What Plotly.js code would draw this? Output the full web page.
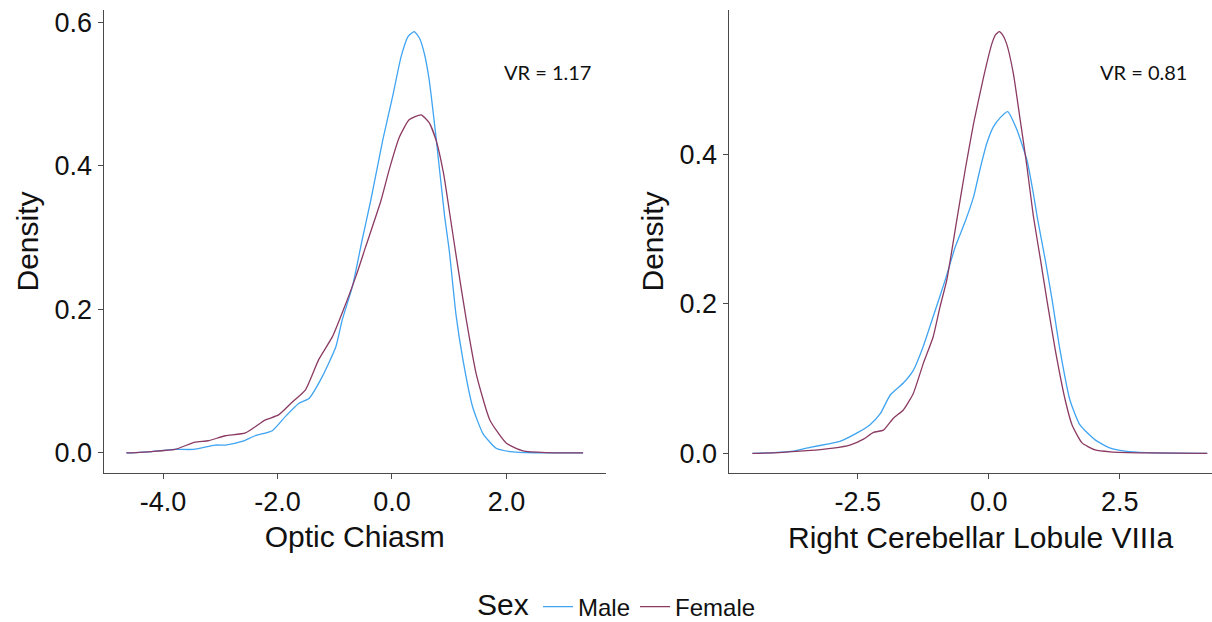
<!DOCTYPE html>
<html>
<head>
<meta charset="utf-8">
<script src="https://cdn.plot.ly/plotly-3.0.1.min.js"></script>
<style>html,body{margin:0;padding:0;background:#fff;}#chart{width:1212px;height:622px;}</style>
</head>
<body>
<div id="chart"></div>
<script>
// Optic Chiasm (left panel)
const ocMaleX = [-4.64,-4.2,-3.79,-3.47,-3.09,-2.91,-2.62,-2.39,-2.09,-1.86,-1.63,-1.45,-1.22,-0.98,-0.87,-0.69,-0.52,-0.37,-0.16,0.01,0.16,0.28,0.39,0.48,0.57,0.65,0.77,0.92,1.0,1.12,1.24,1.41,1.59,1.82,2.06,2.5,3.34];
const ocMaleY = [0,0.002,0.005,0.005,0.011,0.011,0.016,0.024,0.031,0.051,0.069,0.076,0.106,0.148,0.185,0.232,0.297,0.352,0.436,0.496,0.552,0.58,0.587,0.578,0.555,0.52,0.44,0.33,0.283,0.192,0.13,0.064,0.027,0.0065,0.002,0.0003,0];
const ocFemaleX = [-4.64,-4.2,-3.79,-3.44,-3.21,-2.91,-2.56,-2.21,-1.98,-1.74,-1.51,-1.28,-1.04,-0.87,-0.63,-0.46,-0.19,-0.05,0.13,0.3,0.51,0.65,0.77,0.9,1.02,1.14,1.3,1.47,1.71,2.0,2.29,2.69,3.34];
const ocFemaleY = [0,0.002,0.005,0.015,0.017,0.024,0.028,0.046,0.053,0.071,0.088,0.13,0.162,0.195,0.246,0.287,0.352,0.394,0.44,0.464,0.471,0.46,0.436,0.39,0.328,0.265,0.185,0.111,0.046,0.0135,0.003,0.0005,0];

// Right Cerebellar Lobule VIIIa (right panel)
const rclMaleX = [-4.51,-4.1,-3.73,-3.41,-3.03,-2.84,-2.52,-2.27,-2.07,-1.88,-1.63,-1.44,-1.25,-1.06,-0.83,-0.64,-0.45,-0.29,-0.17,-0.04,0.09,0.22,0.36,0.53,0.73,0.85,0.93,1.08,1.21,1.36,1.55,1.74,2.03,2.32,2.6,3.0,4.17];
const rclMaleY = [0,0.001,0.003,0.008,0.013,0.016,0.027,0.038,0.053,0.078,0.094,0.111,0.143,0.183,0.232,0.276,0.31,0.343,0.379,0.414,0.437,0.449,0.457,0.434,0.392,0.348,0.314,0.258,0.205,0.138,0.071,0.038,0.018,0.007,0.003,0.001,0];
const rclFemaleX = [-4.51,-4.0,-3.47,-2.97,-2.65,-2.39,-2.2,-2.01,-1.82,-1.63,-1.44,-1.25,-1.06,-0.93,-0.8,-0.61,-0.45,-0.29,-0.1,0.06,0.13,0.2,0.27,0.34,0.47,0.6,0.73,0.85,0.98,1.11,1.27,1.46,1.59,1.78,2.03,2.32,3.0,4.17];
const rclFemaleY = [0,0.001,0.0035,0.007,0.011,0.019,0.028,0.031,0.047,0.058,0.08,0.12,0.156,0.196,0.232,0.312,0.379,0.441,0.503,0.548,0.56,0.564,0.559,0.548,0.508,0.446,0.383,0.318,0.262,0.205,0.138,0.071,0.038,0.014,0.0045,0.002,0.0005,0];

const leftXTicks = [-4, -2, 0, 2];
const leftXLabels = ["-4.0", "-2.0", "0.0", "2.0"];
const leftYTicks = [0, 0.2, 0.4, 0.6];
const leftYLabels = ["0.0", "0.2", "0.4", "0.6"];
const rightXTicks = [-2.5, 0, 2.5];
const rightXLabels = ["-2.5", "0.0", "2.5"];
const rightYTicks = [0, 0.2, 0.4];
const rightYLabels = ["0.0", "0.2", "0.4"];
const vrLabels = ["VR = 1.17", "VR = 0.81"];
const panelTitles = ["Optic Chiasm", "Right Cerebellar Lobule VIIIa"];
const legendTitle = "Sex";

const maleColor = '#3fa4f2';
const femaleColor = '#8b3a62';
const lineStyle = (c) => ({color: c, width: 1.3, shape: 'spline', smoothing: 0.5});

const traces = [
  {x: ocMaleX, y: ocMaleY, name: 'Male', type: 'scatter', mode: 'lines', line: lineStyle(maleColor), xaxis: 'x', yaxis: 'y', legendgroup: 'm'},
  {x: ocFemaleX, y: ocFemaleY, name: 'Female', type: 'scatter', mode: 'lines', line: lineStyle(femaleColor), xaxis: 'x', yaxis: 'y', legendgroup: 'f'},
  {x: rclMaleX, y: rclMaleY, name: 'Male', type: 'scatter', mode: 'lines', line: lineStyle(maleColor), xaxis: 'x2', yaxis: 'y2', legendgroup: 'm', showlegend: false},
  {x: rclFemaleX, y: rclFemaleY, name: 'Female', type: 'scatter', mode: 'lines', line: lineStyle(femaleColor), xaxis: 'x2', yaxis: 'y2', legendgroup: 'f', showlegend: false}
];

const font = 'Liberation Sans, Arial, sans-serif';
const axisCommon = {
  showgrid: false, zeroline: false, showline: true, linecolor: '#4a4a4a', linewidth: 1,
  ticks: 'outside', ticklen: 5, tickwidth: 1, tickcolor: '#4a4a4a',
  tickfont: {family: font, size: 27, color: '#111'}, tickmode: 'array', fixedrange: true,
  automargin: false
};

const layout = {
  width: 1212, height: 622,
  margin: {l: 0, r: 0, t: 0, b: 0, autoexpand: false},
  paper_bgcolor: '#fff', plot_bgcolor: '#fff',
  font: {family: font, color: '#111'},
  showlegend: true,
  legend: {
    orientation: 'h', x: 538/1212, xanchor: 'left', y: 1 - 607/622, yanchor: 'middle',
    font: {family: font, size: 24, color: '#111'}, itemwidth: 30, tracegroupgap: 0
  },
  xaxis: Object.assign({}, axisCommon, {
    domain: [103.5/1212, 606/1212], range: [-5.04, 3.74], anchor: 'y',
    tickvals: leftXTicks, ticktext: leftXLabels,
    title: {text: panelTitles[0], font: {family: font, size: 30, color: '#111'}, standoff: 9}
  }),
  yaxis: Object.assign({}, axisCommon, {
    domain: [1 - 473/622, 1 - 10/622], range: [-0.0279, 0.617], anchor: 'x',
    tickvals: leftYTicks, ticktext: leftYLabels,
    title: {text: 'Density', font: {family: font, size: 30, color: '#111'}, standoff: 7}
  }),
  xaxis2: Object.assign({}, axisCommon, {
    domain: [728.5/1212, 1], range: [-4.966, 4.26], anchor: 'y2',
    tickvals: rightXTicks, ticktext: rightXLabels
  }),
  yaxis2: Object.assign({}, axisCommon, {
    domain: [1 - 473/622, 1 - 10/622], range: [-0.0263, 0.593], anchor: 'x2',
    tickvals: rightYTicks, ticktext: rightYLabels,
    title: {text: 'Density', font: {family: font, size: 30, color: '#111'}, standoff: 7}
  }),
  annotations: [
    {text: panelTitles[1], xref: 'paper', yref: 'paper', x: 981/1212, y: 1 - 537/622, showarrow: false, xanchor: 'center', yanchor: 'middle', font: {family: font, size: 30, color: '#111'}},
    {text: legendTitle, xref: 'paper', yref: 'paper', x: 503/1212, y: 0, showarrow: false, xanchor: 'center', yanchor: 'bottom', borderpad: 0, font: {family: font, size: 30, color: '#111'}},
    {text: vrLabels[0], xref: 'paper', yref: 'paper', x: 547/1212, y: 1 - 72/622, showarrow: false, xanchor: 'center', yanchor: 'middle', font: {family: 'Lato, Carlito, sans-serif', size: 20, color: '#111'}},
    {text: vrLabels[1], xref: 'paper', yref: 'paper', x: 1143/1212, y: 1 - 72/622, showarrow: false, xanchor: 'center', yanchor: 'middle', font: {family: 'Lato, Carlito, sans-serif', size: 20, color: '#111'}}
  ]
};

Plotly.newPlot('chart', traces, layout, {displayModeBar: false, staticPlot: true});
</script>
</body>
</html>
